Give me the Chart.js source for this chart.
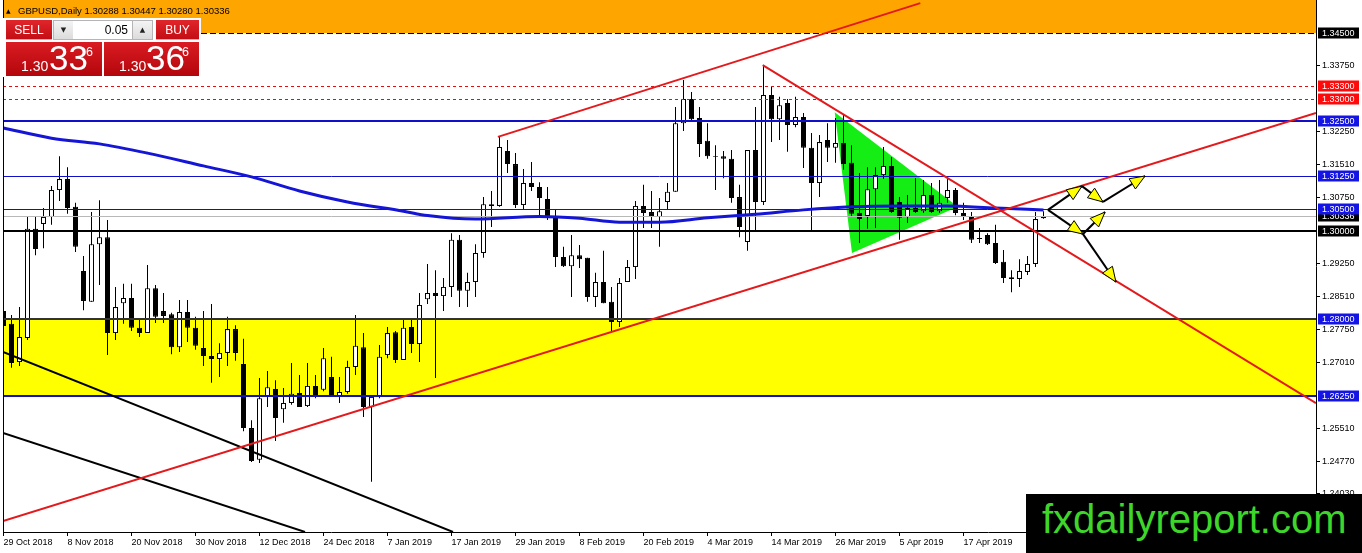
<!DOCTYPE html>
<html><head><meta charset="utf-8">
<script src="https://cdn.jsdelivr.net/npm/chart.js@4.4.1/dist/chart.umd.min.js"></script>
<style>
html,body{margin:0;padding:0;background:#fff;overflow:hidden;}
#wrap{position:relative;width:1362px;height:553px;font-family:'Liberation Sans',Arial,sans-serif;}
canvas{position:absolute;left:0;top:0;}
.abs{position:absolute;line-height:1;white-space:nowrap;}
#title{left:18px;top:5.5px;font-size:9.5px;color:#000;}
#tri{left:6px;top:8px;font-size:6px;color:#000;font-family:'DejaVu Sans',sans-serif;}
#panel{position:absolute;left:3px;top:18px;width:198px;height:59px;background:#fff;}
.red{background:linear-gradient(#e0262b,#c30d14);color:#fff;}
.btn{position:absolute;top:2px;height:20px;font-size:12px;text-align:center;line-height:20px;border-bottom:1px solid #f1a3a5;box-sizing:border-box;}
.arr{position:absolute;top:2px;height:20px;width:21px;background:linear-gradient(#f4f4f4,#dcdcdc);border:1px solid #b5b5b5;box-sizing:border-box;font-size:7px;text-align:center;line-height:18px;color:#222;font-family:'DejaVu Sans',sans-serif;}
#lot{position:absolute;left:70px;top:2px;width:59px;height:20px;background:#fff;border-top:1px solid #b5b5b5;border-bottom:1px solid #b5b5b5;box-sizing:border-box;font-size:12px;text-align:right;padding-right:4px;line-height:18px;color:#000;}
.price{position:absolute;top:24px;height:34px;background:linear-gradient(#d91c22,#b3060c);color:#fff;}
.price span{position:absolute;line-height:1;white-space:nowrap;}
.s{font-size:14px;top:16.8px;}
.b{font-size:35px;top:-1.6px;}
.p{font-size:12.5px;top:4.4px;}
#wm{position:absolute;left:1026px;top:494px;width:336px;height:59px;background:#000;}
#wmt{position:absolute;left:1042px;top:499px;font-size:40px;line-height:40px;color:#3ed62a;white-space:nowrap;}
</style></head><body>
<div id="wrap">
<canvas id="c" width="1362" height="553"></canvas>
<div class="abs" id="tri">▲</div>
<div class="abs" id="title">GBPUSD,Daily 1.30288 1.30447 1.30280 1.30336</div>
<div id="panel">
  <div class="btn red" style="left:3px;width:46px;">SELL</div>
  <div class="arr" style="left:50px;">▼</div>
  <div id="lot">0.05</div>
  <div class="arr" style="left:129px;">▲</div>
  <div class="btn red" style="left:153px;width:43px;">BUY</div>
  <div class="price" style="left:3px;width:96px;"><span class="s" style="left:15px;">1.30</span><span class="b" style="left:43px;">33</span><span class="p" style="left:80px;">6</span></div>
  <div class="price" style="left:101px;width:95px;"><span class="s" style="left:15px;">1.30</span><span class="b" style="left:42px;">36</span><span class="p" style="left:78px;">6</span></div>
</div>
<div id="wm"></div>
<div id="wmt">fxdailyreport.com</div>
</div>
<script>
// ---------- DATA ----------
const labelBars = [0,8,16,24,32,40,48,56,64,72,80,88,96,104,112,120];
const labelText = ['29 Oct 2018','8 Nov 2018','20 Nov 2018','30 Nov 2018','12 Dec 2018','24 Dec 2018','7 Jan 2019','17 Jan 2019','29 Jan 2019','8 Feb 2019','20 Feb 2019','4 Mar 2019','14 Mar 2019','26 Mar 2019','5 Apr 2019','17 Apr 2019'];

const openP = [1.2818,1.2789,1.2702,1.2757,1.3005,1.3016,1.3032,1.3093,1.3118,1.3055,
1.2909,1.2839,1.2970,1.2986,1.2768,1.2836,1.2848,1.2780,1.2768,1.2870,
1.2818,1.2811,1.2736,1.2816,1.2780,1.2734,1.2716,1.2709,1.2723,1.2777,
1.2698,1.2552,1.2480,1.2623,1.2641,1.2595,1.2609,1.2632,1.2602,1.2648,
1.2639,1.2668,1.2623,1.2634,1.2691,1.2736,1.2600,1.2623,1.2718,1.2770,
1.2707,1.2782,1.2743,1.2845,1.2859,1.2852,1.2873,1.2980,1.2864,1.2884,
1.2950,1.3061,1.3057,1.3182,1.3152,1.3059,1.3109,1.3100,1.3073,1.3032,
1.2941,1.2920,1.2945,1.2939,1.2850,1.2884,1.2839,1.2793,1.2884,1.2918,
1.3057,1.3043,1.3032,1.3066,1.3089,1.3245,1.3300,1.3257,1.3205,1.3170,
1.3170,1.3164,1.3077,1.2975,1.3184,1.3066,1.3309,1.3254,1.3291,1.3241,
1.3259,1.3189,1.3109,1.3207,1.3189,1.3200,1.3155,1.3041,1.3034,1.3095,
1.3127,1.3148,1.3066,1.3032,1.3052,1.3045,1.3082,1.3045,1.3075,1.3093,
1.3041,1.3032,1.2984,1.2991,1.2973,1.2930,1.2895,1.2891,1.2907,1.2925,
1.30288];
const highP = [1.2848,1.2809,1.2827,1.3032,1.3032,1.3052,1.3102,1.3170,1.3145,1.3064,
1.2943,1.3043,1.3070,1.3025,1.2873,1.2880,1.2880,1.2798,1.2923,1.2877,
1.2859,1.2814,1.2843,1.2843,1.2805,1.2818,1.2834,1.2745,1.2805,1.2786,
1.2755,1.2570,1.2666,1.2682,1.2661,1.2643,1.2700,1.2673,1.2700,1.2673,
1.2734,1.2714,1.2668,1.2705,1.2809,1.2768,1.2627,1.2741,1.2782,1.2773,
1.2798,1.2798,1.2859,1.2925,1.2911,1.2893,1.2995,1.2991,1.2905,1.2970,
1.3077,1.3091,1.3214,1.3207,1.3177,1.3141,1.3157,1.3111,1.3100,1.3048,
1.2964,1.2991,1.2968,1.2939,1.2905,1.2955,1.2873,1.2893,1.2934,1.3068,
1.3105,1.3091,1.3075,1.3109,1.3282,1.3343,1.3316,1.3282,1.3245,1.3195,
1.3182,1.3184,1.3105,1.3184,1.3282,1.3377,1.3327,1.3305,1.3300,1.3305,
1.3268,1.3223,1.3218,1.3245,1.3257,1.3264,1.3195,1.3132,1.3145,1.3145,
1.3191,1.3168,1.3077,1.3082,1.3120,1.3116,1.3109,1.3116,1.3120,1.3098,
1.3064,1.3043,1.3007,1.2995,1.3014,1.2957,1.2911,1.2936,1.2943,1.3043,
1.30447];
const lowP = [1.2752,1.2689,1.2693,1.2752,1.2945,1.2961,1.3014,1.3068,1.3039,1.2952,
1.2820,1.2839,1.2877,1.2718,1.2752,1.2789,1.2773,1.2759,1.2768,1.2791,
1.2791,1.2720,1.2725,1.2748,1.2730,1.2693,1.2655,1.2668,1.2693,1.2705,
1.2545,1.2475,1.2473,1.2600,1.2523,1.2564,1.2605,1.2600,1.2600,1.2620,
1.2636,1.2623,1.2609,1.2630,1.2673,1.2577,1.2430,1.2620,1.2711,1.2700,
1.2707,1.2723,1.2702,1.2834,1.2666,1.2818,1.2850,1.2827,1.2827,1.2850,
1.2939,1.3009,1.3055,1.3132,1.3052,1.3048,1.3091,1.3036,1.3025,1.2918,
1.2918,1.2850,1.2916,1.2839,1.2827,1.2836,1.2773,1.2782,1.2884,1.2891,
1.3007,1.3007,1.2964,1.3048,1.3089,1.3227,1.3248,1.3168,1.3164,1.3093,
1.3120,1.3064,1.2986,1.2955,1.2998,1.3059,1.3202,1.3207,1.3180,1.3236,
1.3143,1.2998,1.3077,1.3157,1.3155,1.3139,1.3032,1.2973,1.3005,1.3007,
1.3118,1.3041,1.2980,1.3018,1.3041,1.3041,1.3041,1.3041,1.3064,1.3036,
1.3025,1.2973,1.2973,1.2968,1.2925,1.2882,1.2861,1.2873,1.2900,1.2918,
1.30280];
const closeP = [1.2784,1.2700,1.2759,1.3005,1.2959,1.3032,1.3093,1.3118,1.3052,1.2964,
1.2841,1.2970,1.2986,1.2768,1.2827,1.2848,1.2780,1.2768,1.2870,1.2805,
1.2807,1.2736,1.2816,1.2780,1.2739,1.2716,1.2709,1.2723,1.2777,1.2723,
1.2552,1.2477,1.2620,1.2645,1.2575,1.2609,1.2630,1.2600,1.2648,1.2627,
1.2711,1.2623,1.2634,1.2691,1.2739,1.2600,1.2623,1.2714,1.2768,1.2707,
1.2780,1.2743,1.2832,1.2859,1.2852,1.2873,1.2980,1.2864,1.2884,1.2950,
1.3061,1.3057,1.3191,1.3152,1.3059,1.3109,1.3100,1.3075,1.3032,1.2941,
1.2920,1.2945,1.2936,1.2850,1.2884,1.2836,1.2793,1.2882,1.2918,1.3057,
1.3041,1.3032,1.3045,1.3089,1.3245,1.3300,1.3254,1.3198,1.3170,1.3168,
1.3164,1.3075,1.3009,1.3184,1.3066,1.3309,1.3254,1.3286,1.3241,1.3259,
1.3189,1.3109,1.3202,1.3189,1.3200,1.3152,1.3039,1.3027,1.3095,1.3127,
1.3148,1.3043,1.3030,1.3052,1.3043,1.3082,1.3043,1.3064,1.3093,1.3041,
1.3032,1.2980,1.2982,1.2970,1.2927,1.2893,1.2891,1.2909,1.2925,1.3027,
1.30336];

const maBars   = [0,6,12,18,25,31,37,43,50,53,59,67,72,77,82,88,94,100,106,112,118,124,130];
const maValues = [1.3234,1.3211,1.3198,1.3177,1.3148,1.3123,1.3091,1.3066,1.3045,1.3035,1.3027,1.3033,1.3029,1.3020,1.3020,1.3030,1.3038,1.3048,1.3055,1.3057,1.3057,1.3052,1.3048];

const yTickValues = [1.3375,1.3225,1.3151,1.3075,1.2925,1.2851,1.2775,1.2701,1.2551,1.2477,1.2403];
const levelValues = [1.345,1.333,1.330,1.325,1.3125,1.305,1.30336,1.300,1.280,1.2625];
const tagValues   = [1.345,1.333,1.330,1.325,1.3125,1.30336,1.305,1.300,1.280,1.2625];
const orangeZone = [1.345, 1.3525];
const yellowZone = [1.2625, 1.280];

const redLineA = [[61.8,1.3214],[114.6,1.3518]];
const redLineB = [[-0.06,1.2341],[164.06,1.3268]];
const redLineC = [[94.9,1.3377],[164.06,1.2609]];
const blackLineA = [[-0.06,1.2725],[56.19,1.2316]];
const blackLineB = [[-0.06,1.2541],[37.69,1.2316]];
const triangle = [[103.9,1.3270],[106.06,1.2950],[119.3,1.3055],[103.9,1.3270]];
const arrowSegs = [
  [[130.56,1.3048],[134.81,1.3102]],
  [[134.81,1.3102],[137.44,1.3066]],
  [[137.44,1.3066],[142.69,1.3125]],
  [[130.56,1.3048],[134.94,1.2993]],
  [[134.94,1.2993],[137.69,1.3043]],
  [[134.94,1.2993],[139.06,1.2884]]
];

// ---------- STYLES ----------
const levelStyles = [
  {c:'#000000',w:1,d:[6,3]},
  {c:'#e01010',w:1,d:[3,3]},
  {c:'#e01010',w:1,d:[3,3]},
  {c:'#1010c8',w:2,d:[]},
  {c:'#1010c8',w:1,d:[]},
  {c:'#1010c8',w:1,d:[]},
  {c:'#b8b8b8',w:1,d:[]},
  {c:'#000000',w:2,d:[]},
  {c:'#333333',w:2,d:[]},
  {c:'#1010c8',w:2,d:[]}
];
const tagColors = ['#000000','#ff0a0a','#ff0a0a','#1414e6','#1414e6','#000000','#1414e6','#000000','#1414e6','#1414e6'];

const pts = arr => arr.map(p => ({x:p[0], y:p[1]}));
const idx = openP.map((_, i) => i);
const wickData = idx.map(i => ({x:i, y:[lowP[i], highP[i]]}));
const bodyData = idx.map(i => ({x:i, y:[openP[i], closeP[i]]}));
const bodyColors = idx.map(i => closeP[i] >= openP[i] ? '#ffffff' : '#000000');

const Y_MIN = 1.23159, Y_MAX = 1.3525;
const X_MIN = -0.0625, X_MAX = 164.0625;

const lineDs = (data, color, width, extra) => Object.assign({
  type:'line', data: pts(data), borderColor: color, borderWidth: width,
  pointRadius: 0, fill: false, tension: 0, order: 1
}, extra || {});

const datasets = [
  {type:'line', data: pts(triangle), borderWidth: 0, borderColor:'rgba(0,0,0,0)', backgroundColor:'#14ee14', fill:'shape', pointRadius:0, order:6, tension:0},
  {type:'bar', data: wickData, backgroundColor:'#000', maxBarThickness:1, grouped:false, order:5, borderWidth:0},
  {type:'bar', data: bodyData, backgroundColor: bodyColors, borderColor:'#000', borderWidth:1, borderSkipped:false, maxBarThickness:5, grouped:false, order:4, isBody:true},
  {type:'line', data: maBars.map((b,i)=>({x:b, y:maValues[i]})), borderColor:'#1515d6', borderWidth:3, pointRadius:0, cubicInterpolationMode:'monotone', fill:false, order:3},
  lineDs(redLineA, '#e3191c', 2),
  lineDs(redLineB, '#e3191c', 2),
  lineDs(redLineC, '#e3191c', 2),
  lineDs(blackLineA, '#000', 2),
  lineDs(blackLineB, '#000', 2)
];
arrowSegs.forEach(s => datasets.push(lineDs(s, '#000', 2, {isArrow:true, order:0})));

const fxPlugin = {
  id: 'fx',
  beforeDatasetsDraw(chart) {
    const {ctx, chartArea:a, scales:{y}} = chart;
    ctx.save();
    ctx.beginPath(); ctx.rect(a.left, a.top, a.right - a.left, a.bottom - a.top); ctx.clip();
    const band = (z, col) => {
      const y1 = y.getPixelForValue(z[1]), y2 = y.getPixelForValue(z[0]);
      ctx.fillStyle = col; ctx.fillRect(a.left, y1, a.right - a.left, y2 - y1);
    };
    band(orangeZone, '#ffa500');
    band(yellowZone, '#ffff00');
    ctx.restore();
  },
  afterDatasetDraw(chart, args) {
    if (!chart.data.datasets[args.index].isBody) return;
    const {ctx, chartArea:a, scales:{y}} = chart;
    ctx.save();
    levelValues.forEach((v, i) => {
      const st = levelStyles[i];
      const py = Math.round(y.getPixelForValue(v)) + (st.w === 1 ? 0.5 : 0);
      if (i === 0) {
        ctx.strokeStyle = '#fff'; ctx.lineWidth = 1; ctx.setLineDash([]);
        ctx.beginPath(); ctx.moveTo(a.left, py); ctx.lineTo(a.right, py); ctx.stroke();
      }
      ctx.strokeStyle = st.c; ctx.lineWidth = st.w; ctx.setLineDash(st.d);
      ctx.beginPath(); ctx.moveTo(a.left, py); ctx.lineTo(a.right, py); ctx.stroke();
    });
    ctx.restore();
  },
  afterDatasetsDraw(chart) {
    const {ctx, chartArea:a} = chart;
    ctx.save();
    chart.data.datasets.forEach((ds, i) => {
      if (!ds.isArrow) return;
      const pe = chart.getDatasetMeta(i).data;
      const p0 = pe[0], p1 = pe[pe.length - 1];
      const dx = p1.x - p0.x, dy = p1.y - p0.y, L = Math.hypot(dx, dy);
      const ux = dx / L, uy = dy / L, len = 15, hw = 6;
      const bx = p1.x - ux * len, by = p1.y - uy * len;
      ctx.beginPath();
      ctx.moveTo(p1.x, p1.y);
      ctx.lineTo(bx - uy * hw, by + ux * hw);
      ctx.lineTo(bx + uy * hw, by - ux * hw);
      ctx.closePath();
      ctx.fillStyle = '#ffff00'; ctx.fill();
      ctx.strokeStyle = '#000'; ctx.lineWidth = 1; ctx.stroke();
    });
    ctx.strokeStyle = '#000'; ctx.lineWidth = 1;
    ctx.beginPath(); ctx.moveTo(a.left + 0.5, a.top); ctx.lineTo(a.left + 0.5, a.bottom); ctx.stroke();
    ctx.restore();
  },
  afterDraw(chart) {
    const {ctx, chartArea:a, scales:{y}} = chart;
    ctx.save();
    ctx.font = '9px "Liberation Sans", Arial, sans-serif';
    ctx.textBaseline = 'middle';
    tagValues.forEach((v, i) => {
      const py = Math.round(y.getPixelForValue(v));
      ctx.fillStyle = tagColors[i];
      ctx.fillRect(a.right + 2, py - 5.5, 41, 11);
      ctx.fillStyle = '#fff';
      ctx.fillText(v.toFixed(5), a.right + 6, py + 0.5);
    });
    ctx.restore();
  }
};

Chart.defaults.font.family = '"Liberation Sans", Arial, sans-serif';
Chart.defaults.font.size = 9;
Chart.defaults.color = '#000';

new Chart(document.getElementById('c'), {
  type: 'bar',
  data: { datasets },
  options: {
    responsive: false,
    animation: false,
    devicePixelRatio: 1,
    layout: { padding: { left: 3, top: 0, right: 0, bottom: 0 } },
    plugins: { legend: { display: false }, tooltip: { enabled: false } },
    scales: {
      x: {
        type: 'linear', position: 'bottom', min: X_MIN, max: X_MAX, offset: false,
        afterFit: s => { s.height = 21; s.paddingLeft = 0; s.paddingRight = 0; },
        afterBuildTicks: s => { s.ticks = labelBars.map(v => ({ value: v })); },
        grid: { display: true, drawOnChartArea: false, offset: false, tickLength: 4, color: '#000' },
        border: { display: true, color: '#000', width: 1 },
        ticks: {
          align: 'start', padding: 1, maxRotation: 0, autoSkip: false, color: '#000',
          font: { size: 9 },
          callback: v => { const k = labelBars.indexOf(v); return k >= 0 ? labelText[k] : ''; }
        }
      },
      y: {
        type: 'linear', position: 'right', min: Y_MIN, max: Y_MAX,
        afterFit: s => { s.width = 46; s.paddingTop = 0; s.paddingBottom = 0; },
        afterBuildTicks: s => { s.ticks = yTickValues.map(v => ({ value: v })); },
        grid: { display: true, drawOnChartArea: false, tickLength: 4, color: '#000' },
        border: { display: true, color: '#000', width: 1 },
        ticks: { padding: 2, autoSkip: false, color: '#000', font: { size: 9 }, callback: v => Number(v).toFixed(5) }
      }
    }
  },
  plugins: [fxPlugin]
});
</script>
</body></html>
